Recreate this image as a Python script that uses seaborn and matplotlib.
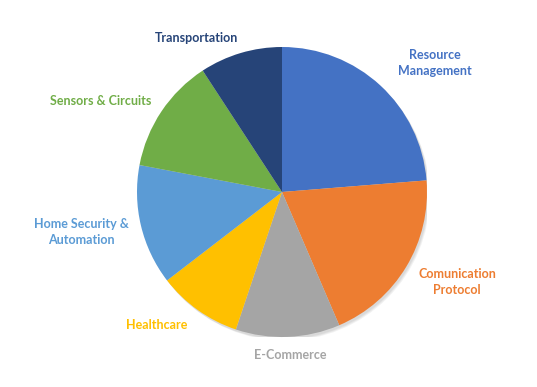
import matplotlib
matplotlib.use("Agg")
import matplotlib.pyplot as plt
import seaborn as sns

categories = ["Resource\nManagement", "Comunication\nProtocol", "E-Commerce", "Healthcare",
              "Home Security &\nAutomation", "Sensors & Circuits", "Transportation"]
values = [23.7, 19.8, 11.6, 9.4, 13.4, 12.8, 9.2]
colors = ["#4472C4", "#ED7D31", "#A5A5A5", "#FFC000", "#5B9BD5", "#70AD47", "#264478"]
# label centres in figure pixels (x from left, y from top)
label_px = [(435, 63), (457, 282), (290, 355), (157, 325), (81, 232), (101, 101), (197, 38)]

sns.set_theme(style="white")
plt.rcParams['font.family'] = ['Lato', 'DejaVu Sans']

W, H = 537, 387
fig = plt.figure(figsize=(W / 100, H / 100), dpi=100)
cx, cy, r = 282, 192, 145
ax = fig.add_axes([(cx - r) / W, (H - cy - r) / H, 2 * r / W, 2 * r / H])

palette = sns.color_palette(colors)
# soft shadow
for i, a in enumerate([0.05, 0.05, 0.05]):
    ax.add_patch(plt.Circle((0.01 + 0.005 * i, -0.015 - 0.005 * i), 1.0, color="black", alpha=a, lw=0))

ax.pie(values, colors=palette, startangle=90, counterclock=False,
       wedgeprops=dict(linewidth=0))
ax.set_xlim(-1, 1)
ax.set_ylim(-1, 1)
ax.set_aspect("equal")
ax.axis("off")

for lab, (x, y), c in zip(categories, label_px, colors):
    fig.text(x / W, 1 - y / H, lab, color=c, fontsize=9, fontweight="bold",
             ha="center", va="center", linespacing=1.45)

fig.savefig("out.png", dpi=100)
